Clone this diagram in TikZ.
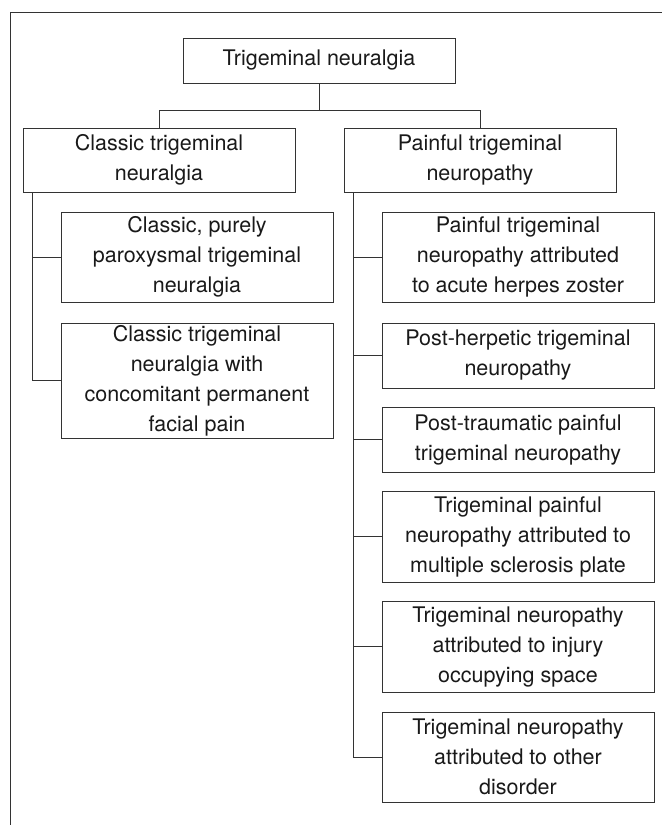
\documentclass[tikz,border=0pt]{standalone}
\usepackage{fontspec}
\setmainfont{TeX Gyre Heros}
\usepackage{tikz}
\usetikzlibrary{positioning}

\tikzset{
    box/.style={draw=black!80, line width=1pt, align=center, inner sep=0pt,
        minimum width=272pt, text=black!90,
        font=\fontsize{21.5}{30}\selectfont},
    link/.style={draw=black!80, line width=1pt}
}

\begin{document}
\begin{tikzpicture}[x=1pt, y=-1pt]
    \useasboundingbox (0,0) rectangle (662,825);
    % frame
    \draw[link] (10,825) -- (10,12) -- (662,12);

    \node[box, minimum height=45pt] (root) at (319,60.5) {Trigeminal neuralgia};
    \node[box, minimum height=64pt] (classic) at (159,160) {Classic trigeminal\\neuralgia};
    \node[box, minimum height=64pt] (painful) at (480,160) {Painful trigeminal\\neuropathy};

    \foreach \i/\y/\h/\txt in {1/257/90/{Classic, purely\\paroxysmal trigeminal\\neuralgia},
        2/380.5/115/{Classic trigeminal\\neuralgia with\\concomitant permanent\\facial pain}} {
        \node[box, minimum height=\h pt] (C\i) at (197,\y) {\txt};
    }
    \foreach \i/\y/\h/\txt in {1/257/90/{Painful trigeminal\\neuropathy attributed\\to acute herpes zoster},
        2/355.5/65/{Post-herpetic trigeminal\\neuropathy},
        3/439.5/65/{Post-traumatic painful\\trigeminal neuropathy},
        4/536.5/91/{Trigeminal painful\\neuropathy attributed to\\multiple sclerosis plate},
        5/646.5/91/{Trigeminal neuropathy\\attributed to injury\\occupying space},
        6/757/90/{Trigeminal neuropathy\\attributed to other\\disorder}} {
        \node[box, minimum height=\h pt] (P\i) at (518,\y) {\txt};
    }

    \draw[link] (root.south) -- ++(0,-27pt) coordinate (join);
    \draw[link] (classic.north) |- (join) -| (painful.north);
    \foreach \i in {1,2} {
        \draw[link] ([xshift=10pt]classic.south west) |- (C\i.west);
    }
    \foreach \i in {1,...,6} {
        \draw[link] ([xshift=10pt]painful.south west) |- (P\i.west);
    }
\end{tikzpicture}
\end{document}
